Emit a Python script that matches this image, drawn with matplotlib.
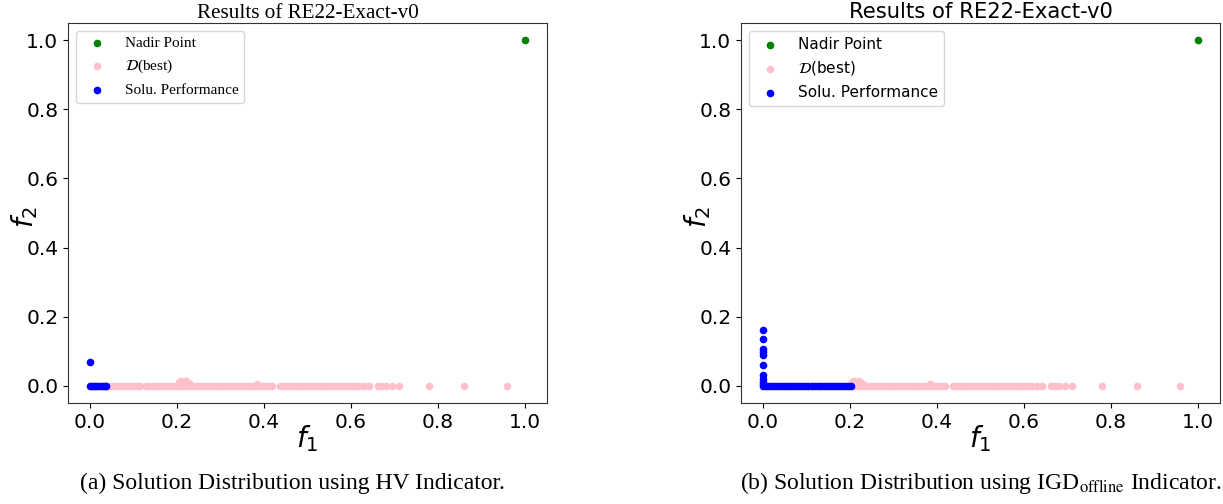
import matplotlib
matplotlib.use("Agg")
import matplotlib.pyplot as plt

# ---------------- data ----------------
nadir_x = [1.0]
nadir_y = [1.0]

best_x = [0.005, 0.012, 0.02, 0.03, 0.04, 0.048, 0.055, 0.062, 0.07, 0.078, 0.085,
          0.093, 0.1, 0.108, 0.115,
          0.13, 0.137, 0.145, 0.152, 0.16, 0.168, 0.175, 0.182, 0.19, 0.197, 0.205,
          0.212, 0.22, 0.228, 0.235, 0.243, 0.25, 0.258, 0.266, 0.273, 0.281, 0.289,
          0.296, 0.304, 0.311, 0.319, 0.327, 0.334, 0.342, 0.35, 0.357, 0.365, 0.372,
          0.38, 0.388, 0.395, 0.403, 0.41, 0.418,
          0.437, 0.444, 0.452, 0.46, 0.467, 0.475, 0.482, 0.49, 0.498, 0.505, 0.513,
          0.52, 0.528, 0.536, 0.543, 0.551, 0.558, 0.566, 0.574, 0.581, 0.589, 0.596,
          0.604, 0.612, 0.619,
          0.629, 0.642, 0.661, 0.671, 0.680, 0.693, 0.711, 0.780, 0.859, 0.957,
          0.205, 0.21, 0.215, 0.22, 0.225, 0.23, 0.385]
best_y = [0.0] * 89 + [0.012, 0.015, 0.010, 0.013, 0.008, 0.006, 0.004]

hv_x = [0.0, 0.005, 0.01, 0.015, 0.02, 0.025, 0.03, 0.035, 0.038, 0.0]
hv_y = [0.0, 0.0, 0.0, 0.0, 0.0, 0.0, 0.0, 0.0, 0.0, 0.07]

igd_x = [0.0, 0.007, 0.014, 0.021, 0.028, 0.035, 0.042, 0.049, 0.056, 0.063, 0.07,
         0.077, 0.084, 0.091, 0.098, 0.105, 0.112, 0.119, 0.126, 0.133, 0.14, 0.147,
         0.154, 0.161, 0.168, 0.175, 0.182, 0.189, 0.196, 0.203,
         0.0, 0.0, 0.0, 0.0, 0.0, 0.0, 0.0, 0.0, 0.0, 0.0]
igd_y = [0.0] * 30 + [0.16, 0.134, 0.105, 0.098, 0.09, 0.061, 0.03, 0.02, 0.011, 0.005]

ticks = [0.0, 0.2, 0.4, 0.6, 0.8, 1.0]
title = "Results of RE22-Exact-v0"
labels = ["Nadir Point", r"$\mathcal{D}$(best)", "Solu. Performance"]
captions = ["(a) Solution Distribution using HV Indicator.",
            r"(b) Solution Distribution using IGD$_{\mathrm{offline}}$ Indicator."]

# ---------------- figure ----------------
W, H = 1223, 504
fig = plt.figure(figsize=(W / 100, H / 100), dpi=100)

def make_axes(left_px, sol_x, sol_y, serif):
    ax = fig.add_axes([left_px / W, (H - 403) / H, 479 / W, 380 / H])
    ax.scatter(nadir_x, nadir_y, c="green", s=20, label=labels[0])
    ax.scatter(best_x, best_y, c="pink", s=20, label=labels[1])
    ax.scatter(sol_x, sol_y, c="blue", s=20, label=labels[2])
    ax.set_xticks(ticks)
    ax.set_yticks(ticks)
    ax.tick_params(labelsize=14.5)
    ax.set_xlabel(r"$f_1$", fontsize=20)
    ax.set_ylabel(r"$f_2$", fontsize=20)
    ax.xaxis.set_label_coords(0.5, -0.095)
    ax.yaxis.set_label_coords(-0.09, 0.49)
    ax.xaxis.label.set_va("center")
    ax.yaxis.label.set_va("center")
    if serif:
        ax.set_title(title, fontsize=15.2, family="Liberation Serif", pad=3.5)
        ax.legend(loc="upper left",
                  prop=dict(family="Liberation Serif", size=11,
                            math_fontfamily="stix"))
    else:
        ax.set_title(title, fontsize=15.2, pad=3.5)
        ax.legend(loc="upper left", prop=dict(size=11))
    for sp in ax.spines.values():
        sp.set_color("#333333")
    return ax

make_axes(68, hv_x, hv_y, True)
make_axes(741, igd_x, igd_y, False)

fig.text(292 / W, 1 - 483 / H, captions[0], ha="center", va="center",
         fontsize=17, family="Liberation Serif")
fig.text(981 / W, 1 - 483 / H, captions[1], ha="center", va="center",
         fontsize=17, family="Liberation Serif", math_fontfamily="stix")

fig.savefig("out.png", dpi=100)
